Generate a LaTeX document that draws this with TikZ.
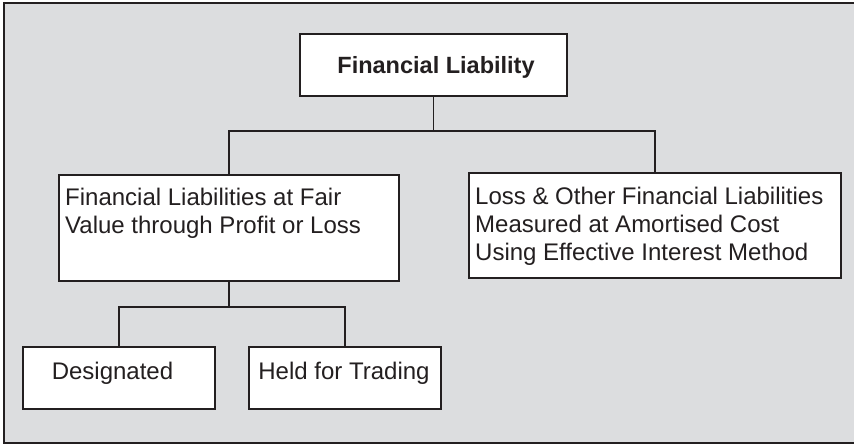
\documentclass[tikz,border=0pt]{standalone}
\usepackage{fontspec}
\setmainfont{Liberation Sans}
\definecolor{panel}{HTML}{DCDDDF}
\definecolor{ink}{HTML}{231F20}
\tikzset{
  box/.style={draw=ink, fill=white, line width=1.5pt, inner sep=0pt, anchor=north west},
  link/.style={draw=ink, line width=1.5pt},
  txt/.style={inner sep=0pt, anchor=base west, text=ink, align=left,
              font=\fontsize{24}{28}\selectfont},
  headtxt/.style={txt, anchor=base, font=\fontsize{23.5}{28}\selectfont\bfseries},
}
\begin{document}
\begin{tikzpicture}[x=1pt,y=-1pt]
\useasboundingbox (0,0) rectangle (854,445);
% grey panel with its frame
\fill[panel] (4,3) rectangle (854,443);
\draw[ink, line width=2pt] (854,3) -- (4,3) -- (4,443) -- (854,443);

% boxes
\node[box, minimum width=267pt, minimum height=62pt] (root) at (299,33) {};
\node[box, minimum width=340pt, minimum height=106pt] (fvpl) at (58,174) {};
\node[box, minimum width=372pt, minimum height=105pt] (amort) at (468,172) {};
\node[box, minimum width=192pt, minimum height=62pt] (desig) at (22,346) {};
\node[box, minimum width=192pt, minimum height=62pt] (held) at (248,346) {};

% texts (multi-line texts sit on the baseline of their last line)
\node[headtxt] (rootlbl) at (436,73) {Financial Liability};
\node[txt] (fvpllbl) at (65,233) {Financial Liabilities at Fair\\Value through Profit or Loss};
\node[txt] (amortlbl) at (475,260) {Loss \& Other Financial Liabilities\\Measured at Amortised Cost\\Using Effective Interest Method};
\node[txt, anchor=base] (desiglbl) at (112.5,379) {Designated};
\node[txt, anchor=base] (heldlbl) at (344,379) {Held for Trading};

% connectors
\draw[link] (root.south) -- (root.south |- 0,131) coordinate (bus1);
\draw[link] (fvpl.north) |- (bus1) -| (amort.north);
\draw[link] (fvpl.south) -- (fvpl.south |- 0,307) coordinate (bus2);
\draw[link] (desig.north) |- (bus2) -| (held.north);
\end{tikzpicture}
\end{document}
